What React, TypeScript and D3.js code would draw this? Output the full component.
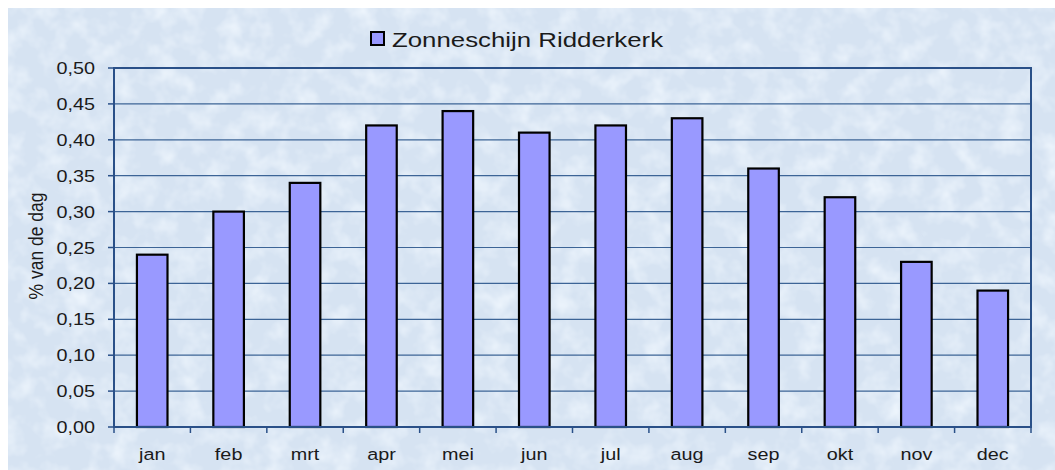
import React from "react";
import * as d3 from "d3";

const months = ["jan", "feb", "mrt", "apr", "mei", "jun", "jul", "aug", "sep", "okt", "nov", "dec"];
const sunshine = [0.24, 0.30, 0.34, 0.42, 0.44, 0.41, 0.42, 0.43, 0.36, 0.32, 0.23, 0.19];
const yTicks = [0, 0.05, 0.1, 0.15, 0.2, 0.25, 0.3, 0.35, 0.4, 0.45, 0.5];
const seriesName = "Zonneschijn Ridderkerk";
const yLabel = "% van de dag";

const W = 1055;
const H = 470;
const OFF = 8;
const M = { left: 114, right: 1031, top: 68, bottom: 427 };
const SX = 1.2;
const FONT = "'Liberation Sans', Arial, Helvetica, sans-serif";

export default function App() {
  const x = d3.scaleBand<string>().domain(months).range([M.left, M.right]).paddingInner(0.6).paddingOuter(0.3);
  const xb = d3.scaleBand<string>().domain(months).range([M.left, M.right]);
  const y = d3.scaleLinear().domain([0, 0.5]).range([M.bottom, M.top]);
  const fmt = (v: number) => v.toFixed(2).replace(".", ",");
  const gridColor = "#3c6496";
  const axisColor = "#2a5088";
  const textFill = "#1a1a1a";

  return (
    <div style={{ position: "fixed", left: OFF, top: OFF }}>
      <svg width={W - OFF} height={H - OFF} style={{ display: "block", fontFamily: FONT }}>
        <defs>
          <filter id="tex" x="0" y="0" width={W} height={H} filterUnits="userSpaceOnUse" colorInterpolationFilters="sRGB">
            <feTurbulence type="fractalNoise" baseFrequency="0.045" numOctaves="3" seed="7" result="n" />
            <feColorMatrix
              in="n"
              type="matrix"
              values="0 0 0 0 0.93  0 0 0 0 0.96  0 0 0 0 0.99  2 0 0 0 -0.85"
            />
          </filter>
        </defs>
        <g transform={`translate(${-OFF},${-OFF})`}>
          <rect x={OFF} y={OFF} width={W - OFF} height={H - OFF} fill="#d6e3f2" />
          <rect x={OFF} y={OFF} width={W - OFF} height={H - OFF} fill="#fff" filter="url(#tex)" />

          {/* gridlines */}
          {yTicks.map((t) => (
            <line key={"g" + t} x1={M.left} x2={M.right} y1={y(t)} y2={y(t)} stroke={gridColor} strokeWidth={1.2} />
          ))}

          {/* bars */}
          {months.map((m, i) => (
            <rect
              key={m}
              x={x(m)}
              y={y(sunshine[i])}
              width={x.bandwidth()}
              height={y(0) - y(sunshine[i])}
              fill="#9999ff"
              stroke="#000"
              strokeWidth={2.2}
            />
          ))}

          {/* plot border */}
          <rect x={M.left} y={M.top} width={M.right - M.left} height={M.bottom - M.top} fill="none" stroke={axisColor} strokeWidth={2} />

          {/* y ticks */}
          {yTicks.map((t) => (
            <g key={"y" + t}>
              <line x1={M.left - 6} x2={M.left} y1={y(t)} y2={y(t)} stroke={axisColor} strokeWidth={1.5} />
              <text
                transform={`translate(95,${y(t) + 6}) scale(${SX},1)`}
                textAnchor="end"
                fontSize={16.5}
                fill={textFill}
              >
                {fmt(t)}
              </text>
            </g>
          ))}

          {/* x ticks */}
          {months.map((m) => (
            <line key={"xt" + m} x1={xb(m)} x2={xb(m)} y1={M.bottom} y2={M.bottom + 6} stroke={axisColor} strokeWidth={1.5} />
          ))}
          <line x1={M.right} x2={M.right} y1={M.bottom} y2={M.bottom + 6} stroke={axisColor} strokeWidth={1.5} />
          {months.map((m) => (
            <text
              key={"xl" + m}
              transform={`translate(${(xb(m) as number) + xb.bandwidth() / 2},460) scale(${SX},1)`}
              textAnchor="middle"
              fontSize={16.5}
              fill={textFill}
            >
              {m}
            </text>
          ))}

          {/* y label */}
          <text
            transform={`translate(43,246) rotate(-90) scale(1,${SX})`}
            textAnchor="middle"
            fontSize={17.5}
            fill={textFill}
          >
            {yLabel}
          </text>

          {/* legend */}
          <rect x={371} y={32} width={13} height={13} fill="#9999ff" stroke="#000" strokeWidth={2} />
          <text transform={`translate(392,47) scale(1.26,1)`} fontSize={20.5} fill={textFill}>
            {seriesName}
          </text>
        </g>
      </svg>
    </div>
  );
}
